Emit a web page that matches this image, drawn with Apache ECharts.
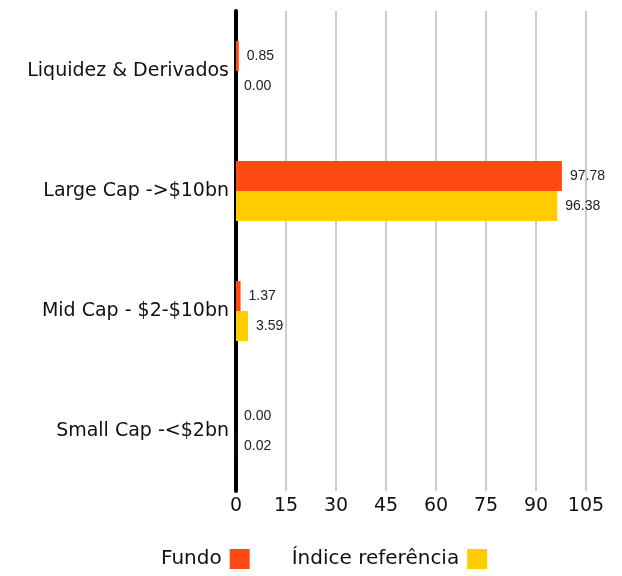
<!DOCTYPE html>
<html>
<head>
<meta charset="utf-8">
<script src="https://cdn.jsdelivr.net/npm/echarts@6/dist/echarts.min.js"></script>
<style>html,body{margin:0;padding:0;background:#fff}#c{width:622px;height:576px}</style>
</head>
<body>
<div id="c"></div>
<script>
var categories = ['Liquidez & Derivados', 'Large Cap ->$10bn', 'Mid Cap - $2-$10bn', 'Small Cap -<$2bn'];
var fundo = [0.85, 97.78, 1.37, 0.00];
var indice = [0.00, 96.38, 3.59, 0.02];
var seriesNames = ['Fundo', 'Índice referência'];
var chart = echarts.init(document.getElementById('c'));
var FONT = 'DejaVu Sans';
var lbl = {
  show: true, position: 'right', distance: 8, fontSize: 14, color: '#222',
  fontFamily: 'Liberation Sans',
  formatter: function (p) { return p.value.toFixed(2); }
};
chart.setOption({
  animation: false,
  grid: { left: 236, right: 36, top: 11, bottom: 85 },
  legend: {
    left: 156, top: 544, icon: 'rect', itemWidth: 20, itemHeight: 20, itemGap: 42, align: 'right',
    textStyle: { fontSize: 20, color: '#111', fontFamily: FONT, padding: [7, 3, 0, 0] },
    data: seriesNames
  },
  xAxis: {
    type: 'value', min: 0, max: 105, interval: 15,
    axisLine: { show: false }, axisTick: { show: false },
    splitLine: { show: true, lineStyle: { color: '#cccccc', width: 2 } },
    axisLabel: { fontSize: 19, color: '#111', margin: 6, fontFamily: FONT }
  },
  yAxis: {
    type: 'category', inverse: true, data: categories,
    axisLine: { show: true, lineStyle: { color: '#000', width: 4 } },
    axisTick: { show: false },
    axisLabel: { fontSize: 19, color: '#111', margin: 7, fontFamily: FONT, padding: [7, 0, 0, 0] }
  },
  series: [
    { name: seriesNames[0], type: 'bar', data: fundo, barWidth: 30, barGap: '0%', itemStyle: { color: '#ff4a14' }, label: lbl },
    { name: seriesNames[1], type: 'bar', data: indice, barWidth: 30, barGap: '0%', itemStyle: { color: '#ffcc00' }, label: lbl }
  ]
});
</script>
</body>
</html>
